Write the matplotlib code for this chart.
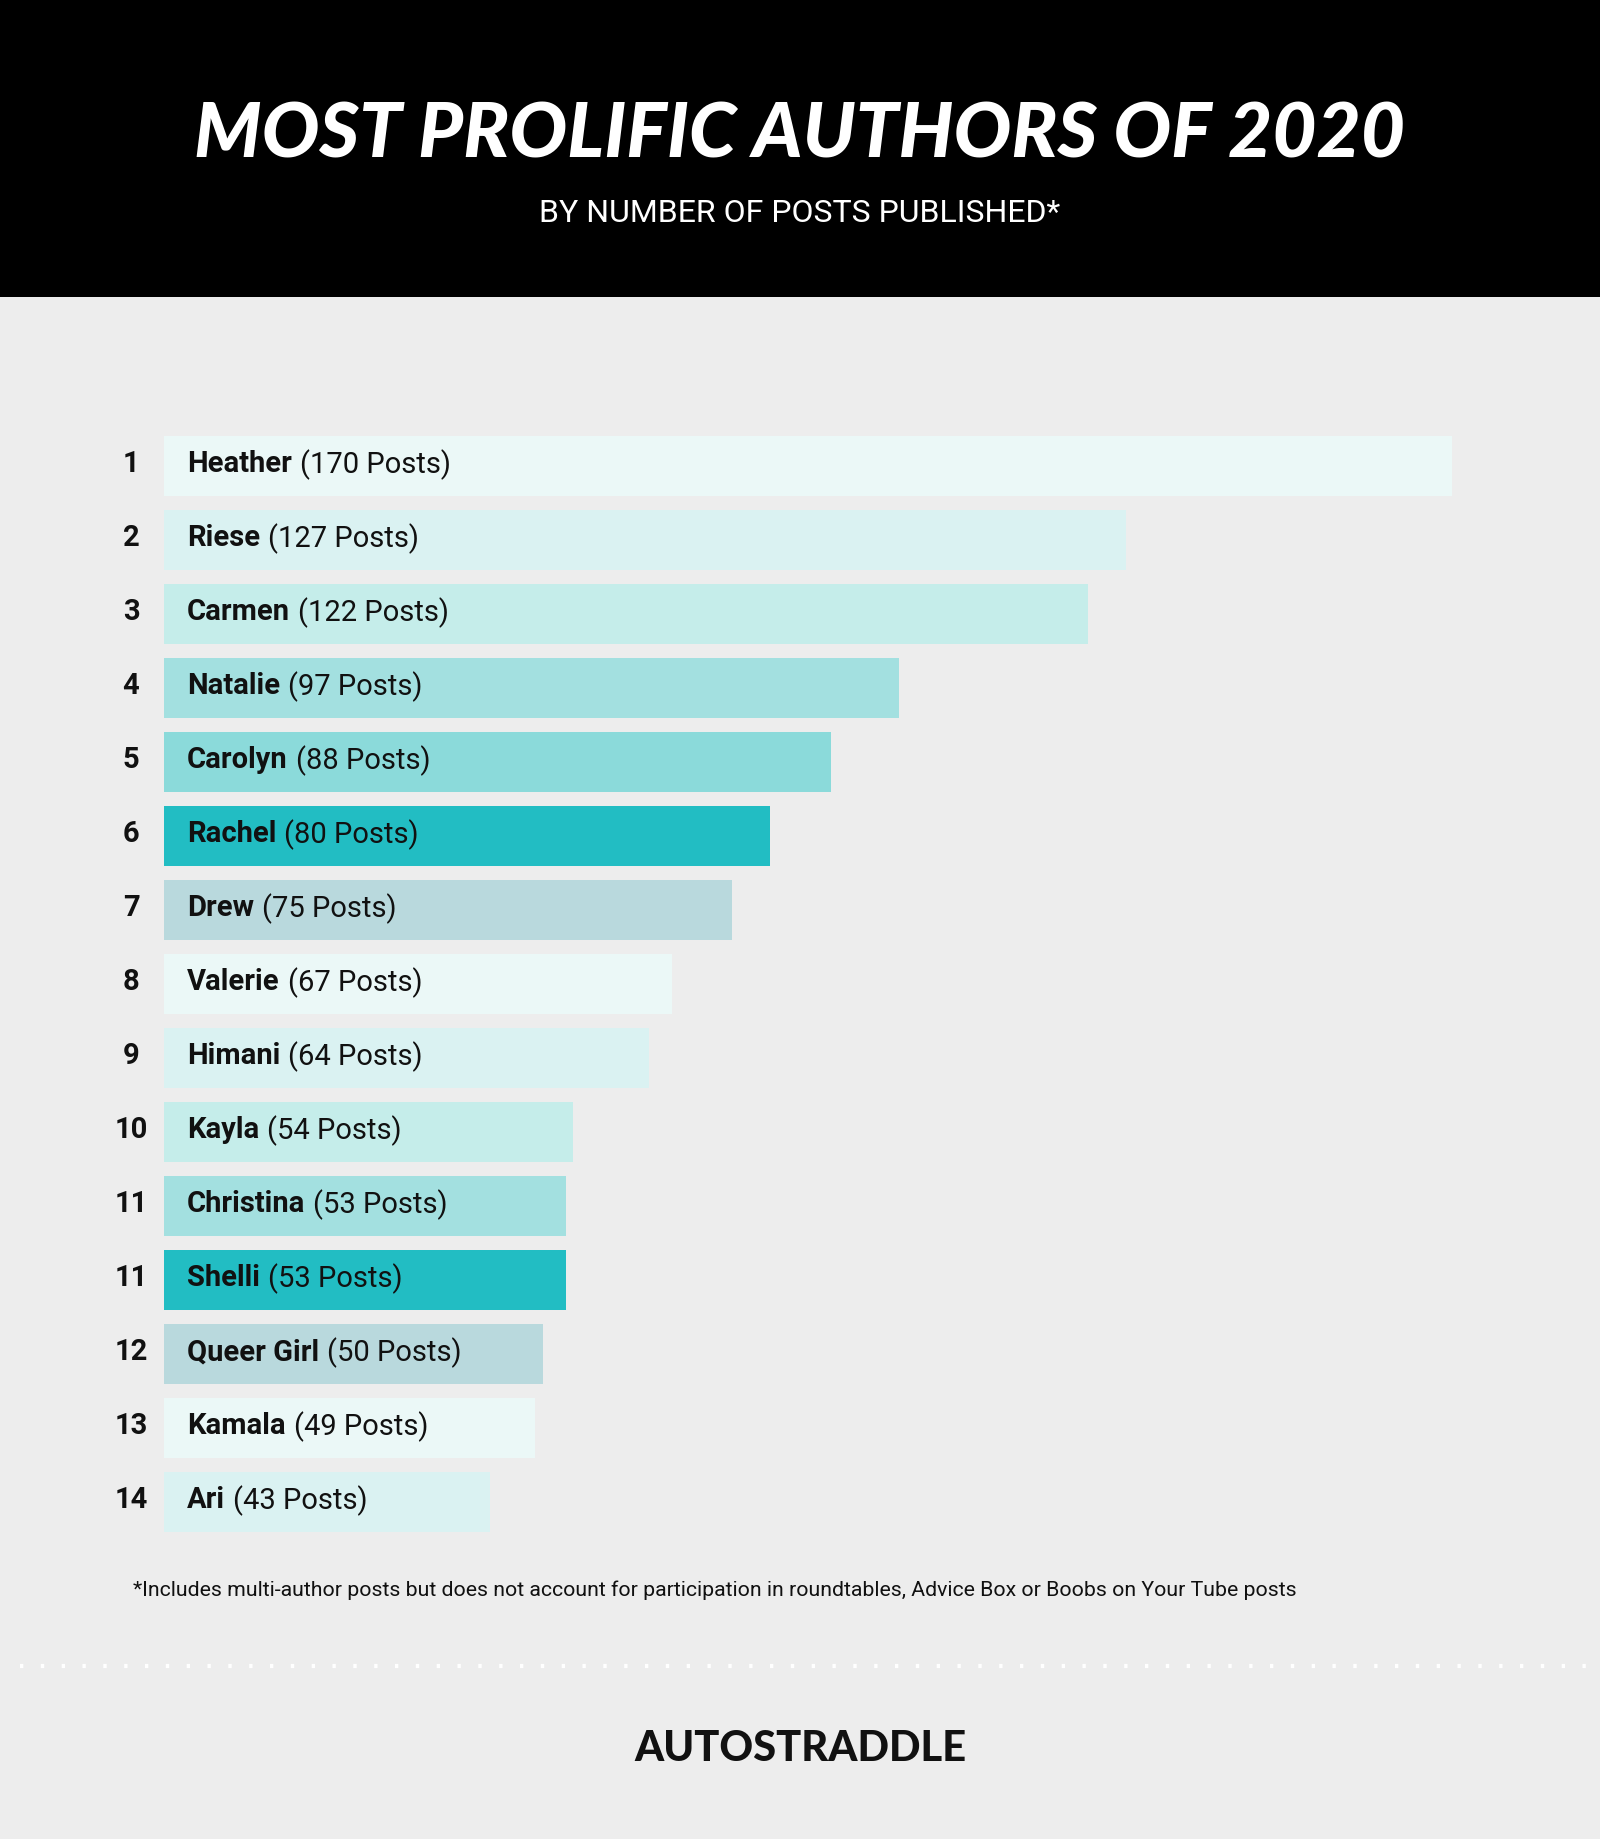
import matplotlib
matplotlib.use("Agg")
import matplotlib.pyplot as plt
from matplotlib.lines import Line2D
from matplotlib.patches import Rectangle

# ---- data ----
ranks = ["1", "2", "3", "4", "5", "6", "7", "8", "9", "10", "11", "11", "12", "13", "14"]
authors = ["Heather", "Riese", "Carmen", "Natalie", "Carolyn", "Rachel", "Drew", "Valerie",
           "Himani", "Kayla", "Christina", "Shelli", "Queer Girl", "Kamala", "Ari"]
posts = [170, 127, 122, 97, 88, 80, 75, 67, 64, 54, 53, 53, 50, 49, 43]
bar_colors = ["#EBF8F7", "#DAF2F2", "#C5EDEA", "#A3E0E0", "#8BDADA", "#22BDC3", "#B9D9DD",
              "#EBF8F7", "#DAF2F2", "#C5EDEA", "#A3E0E0", "#22BDC3", "#B9D9DD", "#EBF8F7", "#DAF2F2"]
title = "MOST PROLIFIC AUTHORS OF 2020"
subtitle = "BY NUMBER OF POSTS PUBLISHED*"
footnote = "*Includes multi-author posts but does not account for participation in roundtables, Advice Box or Boobs on Your Tube posts"
brand = "AUTOSTRADDLE"

W, H = 1600, 1840
BG = "#EDEDED"
fig = plt.figure(figsize=(W / 100, H / 100), dpi=100, facecolor=BG)

def fx(px):
    return px / W

def fy(py):
    return 1 - py / H

# header band
fig.patches.append(Rectangle((0, fy(298)), 1, 298 / H, transform=fig.transFigure,
                             facecolor="black", edgecolor="none", zorder=0))
fig.text(0.5, fy(136), title, ha="center", va="center", color="white",
         fontsize=55, fontweight="black", fontstyle="italic", family="Lato")
fig.text(0.5, fy(213), subtitle, ha="center", va="center", color="white",
         fontsize=23, family="Roboto", fontweight="regular")

# bar axes
x0_px, x1_px = 164, 1452
top_px, row_px = 430, 74
n = len(posts)
ax = fig.add_axes([fx(x0_px), fy(top_px + row_px * n), (x1_px - x0_px) / W, row_px * n / H])
ax.set_facecolor("none")
ax.set_xlim(0, max(posts))
ax.set_ylim(n - 0.5, -0.5)
ax.axis("off")
ypos = list(range(n))
ax.barh(ypos, posts, height=0.8, color=bar_colors, edgecolor="none")

fig.canvas.draw()
renderer = fig.canvas.get_renderer()
px_per_unit = (x1_px - x0_px) / max(posts)
fs = 21
dy = -0.08
for i, (r, a, p) in enumerate(zip(ranks, authors, posts)):
    ax.text(-(164 - 131) / px_per_unit, i + dy, r, ha="center", va="center_baseline", fontsize=fs,
            fontweight="bold", family="Roboto", color="#111111", clip_on=False)
    t1 = ax.text((187 - 164) / px_per_unit, i + dy, a, ha="left", va="center_baseline", fontsize=fs,
                 fontweight="bold", family="Roboto", color="#111111")
    bb = t1.get_window_extent(renderer=renderer)
    x_end = ax.transData.inverted().transform((bb.x1, 0))[0]
    ax.text(x_end + 8 / px_per_unit, i + dy, f"({p} Posts)", ha="left", va="center_baseline",
            fontsize=fs, family="Roboto", color="#111111")

# footnote
fig.text(fx(133), fy(1590), footnote, ha="left", va="center", fontsize=15.3,
         family="Roboto", color="#111111")

# dotted separator
fig.lines.append(Line2D([fx(20), fx(1590)], [fy(1667), fy(1667)], transform=fig.transFigure,
                        color="white", linewidth=3, linestyle=(0, (0.8, 4.2)),
                        solid_capstyle="butt", dash_capstyle="butt"))

# brand
fig.text(0.5, fy(1749), brand, ha="center", va="center", fontsize=30,
         fontweight="black", family="Lato", color="#111111")

fig.savefig("out.png", dpi=100, facecolor=BG)
